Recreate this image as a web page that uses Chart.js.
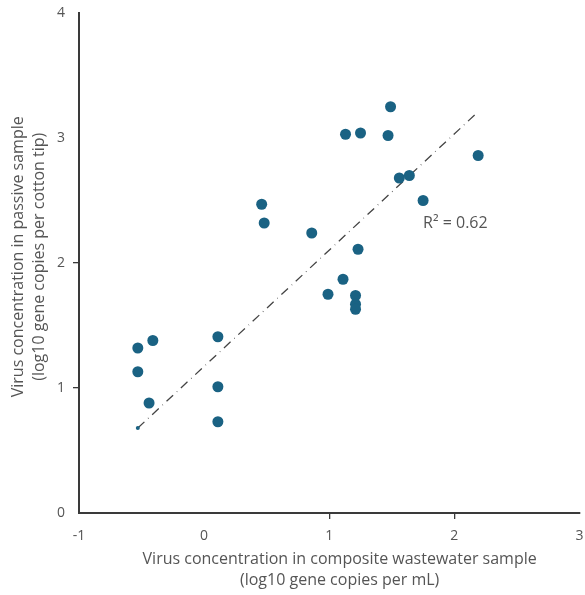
<!DOCTYPE html>
<html>
<head>
<meta charset="utf-8">
<script src="https://cdn.jsdelivr.net/npm/chart.js@4/dist/chart.umd.min.js"></script>
<style>
  html, body { margin: 0; padding: 0; background: #fff; }
  #wrap { width: 585px; height: 595px; }
</style>
</head>
<body>
<div id="wrap"><canvas id="chart" width="585" height="595"></canvas></div>
<script>
// composite wastewater (x) vs passive sample (y), log10 gene copies
const wastewater = [-0.53, -0.53, -0.41, -0.44, 0.11, 0.11, 0.11, 0.46, 0.48, 0.86, 0.99, 1.11,
                    1.13, 1.25, 1.23, 1.21, 1.21, 1.21, 1.49, 1.47, 1.56, 1.64, 1.75, 2.19];
const passive    = [1.32, 1.13, 1.38, 0.88, 1.41, 1.01, 0.73, 2.47, 2.32, 2.24, 1.75, 1.87,
                    3.03, 3.04, 2.11, 1.74, 1.67, 1.63, 3.25, 3.02, 2.68, 2.70, 2.50, 2.86];
const trendX = [-0.53, 2.19];
const trendY = [0.68, 3.21];
const xTicks = [-1, 0, 1, 2, 3];
const yTicks = [0, 1, 2, 3, 4];
const r2Label = 'R\u00b2 = 0.62';

const fontFamily = '"Open Sans", "Noto Sans", sans-serif';
const axisColor = '#3a3a3a';
const textColor = '#555';
const dotColor = '#1a6283';

// R² annotation placed in data coordinates
const r2Plugin = {
  id: 'r2',
  afterDatasetsDraw(chart) {
    const { ctx, scales } = chart;
    ctx.save();
    ctx.font = '16px ' + fontFamily;
    ctx.fillStyle = textColor;
    ctx.textAlign = 'left';
    ctx.textBaseline = 'middle';
    ctx.fillText(r2Label, scales.x.getPixelForValue(1.75), scales.y.getPixelForValue(2.32));
    ctx.restore();
  }
};

// inner ticks only, no marks at the axis ends
const innerTick = (ctx) => {
  const v = ctx.tick && ctx.tick.value;
  return (v === undefined || v === xTicks[0] || v === xTicks[xTicks.length - 1] ||
          v === yTicks[0] || v === yTicks[yTicks.length - 1]) ? 'rgba(0,0,0,0)' : axisColor;
};

new Chart(document.getElementById('chart'), {
  type: 'scatter',
  data: {
    datasets: [
      {
        label: 'samples',
        data: wastewater.map((x, i) => ({ x, y: passive[i] })),
        backgroundColor: dotColor,
        borderWidth: 0,
        pointRadius: 5.5
      },
      {
        label: 'trend',
        type: 'line',
        data: trendX.map((x, i) => ({ x, y: trendY[i] })),
        borderColor: '#444',
        borderWidth: 1.3,
        borderDash: [9, 5, 0.6, 5],
        pointRadius: [2, 0],
        pointBackgroundColor: dotColor,
        pointBorderWidth: 0,
        fill: false
      }
    ]
  },
  options: {
    responsive: false,
    animation: false,
    layout: { padding: { top: 13, right: 0, left: 0, bottom: 0 } },
    plugins: {
      legend: { display: false },
      tooltip: { enabled: false }
    },
    scales: {
      x: {
        type: 'linear',
        min: -1,
        max: 3,
        afterBuildTicks: (s) => { s.ticks = xTicks.map(v => ({ value: v })); },
        afterFit: (s) => { s.height = 82; s.paddingLeft = 0; s.paddingRight = 0; },
        border: { display: true, color: axisColor, width: 2 },
        grid: { drawOnChartArea: false, drawTicks: true, tickLength: 6, color: innerTick, lineWidth: 1.3 },
        ticks: { color: textColor, font: { family: fontFamily, size: 14 }, padding: 9, maxRotation: 0 },
        title: {
          display: true,
          text: ['     Virus concentration in composite wastewater sample', '     (log10 gene copies per mL)'],
          color: textColor,
          font: { family: fontFamily, size: 16, lineHeight: 1.3 },
          padding: { top: 2 }
        }
      },
      y: {
        type: 'linear',
        min: 0,
        max: 4,
        afterBuildTicks: (s) => { s.ticks = yTicks.map(v => ({ value: v })); },
        afterFit: (s) => { s.width = 79; s.paddingTop = 0; s.paddingBottom = 0; },
        border: { display: true, color: axisColor, width: 2 },
        grid: { drawOnChartArea: false, drawTicks: true, tickLength: 6, color: innerTick, lineWidth: 1.3 },
        ticks: { color: textColor, font: { family: fontFamily, size: 14 }, padding: 8 },
        title: {
          display: true,
          text: ['   Virus concentration in passive sample', '   (log10 gene copies per cotton tip)'],
          color: textColor,
          font: { family: fontFamily, size: 16, lineHeight: 1.3 },
          padding: { top: 8, bottom: 4 }
        }
      }
    }
  },
  plugins: [r2Plugin]
});
</script>
</body>
</html>
